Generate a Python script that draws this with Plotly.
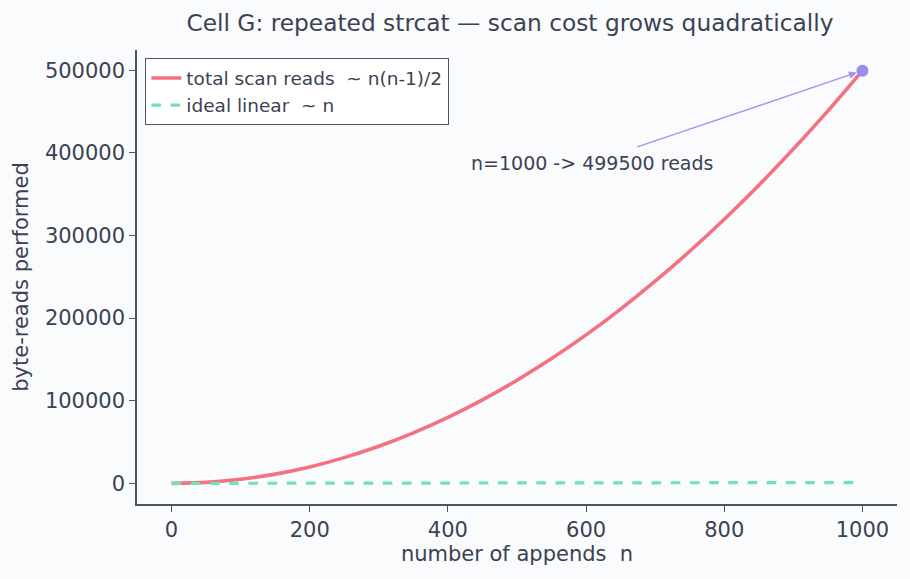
import plotly.graph_objects as go

n_vals = [0, 50, 100, 150, 200, 250, 300, 350, 400, 450, 500, 550, 600, 650, 700, 750, 800, 850, 900, 950, 1000]
scan_reads = [0, 1225, 4950, 11175, 19900, 31125, 44850, 61075, 79800, 101025, 124750, 150975,
              179700, 210925, 244650, 280875, 319600, 360825, 404550, 450775, 499500]
linear_reads = [0, 50, 100, 150, 200, 250, 300, 350, 400, 450, 500, 550, 600, 650, 700, 750, 800, 850, 900, 950, 1000]
x_ticks = [0, 200, 400, 600, 800, 1000]
y_ticks = [0, 100000, 200000, 300000, 400000, 500000]
end_n = 1000
end_reads = 499500

TXT = "#3b4252"
AX = "#4c5365"
FONT = "DejaVu Sans"

fig = go.Figure()
fig.add_trace(go.Scatter(x=n_vals, y=scan_reads, mode="lines", line_shape="spline",
                         name="total scan reads  ~ n(n-1)/2",
                         line=dict(color="#f4717f", width=3.6)))
fig.add_trace(go.Scatter(x=n_vals, y=linear_reads, mode="lines",
                         name="ideal linear  ~ n",
                         line=dict(color="#72e0b8", width=3.2, dash="dash")))
fig.add_trace(go.Scatter(x=[end_n], y=[end_reads], mode="markers", showlegend=False,
                         marker=dict(color="#9d8cf0", size=12)))

fig.add_annotation(x=end_n, y=end_reads, ax=672, ay=406500, axref="x", ayref="y",
                   xref="x", yref="y", text="", showarrow=True, arrowhead=2,
                   arrowsize=1.2, arrowwidth=1.3, arrowcolor="#a193ee", standoff=6)
fig.add_annotation(x=609, y=388000, xref="x", yref="y", text=f"n={end_n} -> {end_reads} reads",
                   showarrow=False, font=dict(family=FONT, size=19, color=TXT))

fig.update_layout(
    width=910, height=579,
    margin=dict(l=137, r=13, t=50, b=75),
    paper_bgcolor="#fafbfd", plot_bgcolor="#fafbfd",
    font=dict(family=FONT, color=TXT, size=21),
    title=dict(text="Cell G: repeated strcat — scan cost grows quadratically",
               x=0.5604, xanchor="center", y=0.975, yanchor="top",
               font=dict(family=FONT, size=23.3, color=TXT)),
    legend=dict(x=0.0106, y=0.982, xanchor="left", yanchor="top",
                bgcolor="#ffffff", bordercolor=AX, borderwidth=1.3,
                font=dict(family=FONT, size=18.5, color=TXT), tracegroupgap=2),
    showlegend=True,
)
fig.update_xaxes(range=[-50, 1050], tickvals=x_ticks, showgrid=False, zeroline=False,
                 showline=True, linecolor=AX, linewidth=1.5, ticks="outside", ticklen=6,
                 tickcolor=AX, tickfont=dict(size=21),
                 title=dict(text="number of appends  n", font=dict(size=21), standoff=4))
fig.update_yaxes(range=[-24975, 524475], tickvals=y_ticks, tickformat="d", showgrid=False,
                 zeroline=False, showline=True, linecolor=AX, linewidth=1.5, ticks="outside",
                 ticklen=6, tickcolor=AX, tickfont=dict(size=21),
                 title=dict(text="byte-reads performed", font=dict(size=21), standoff=11))

fig.write_html("out.html")
